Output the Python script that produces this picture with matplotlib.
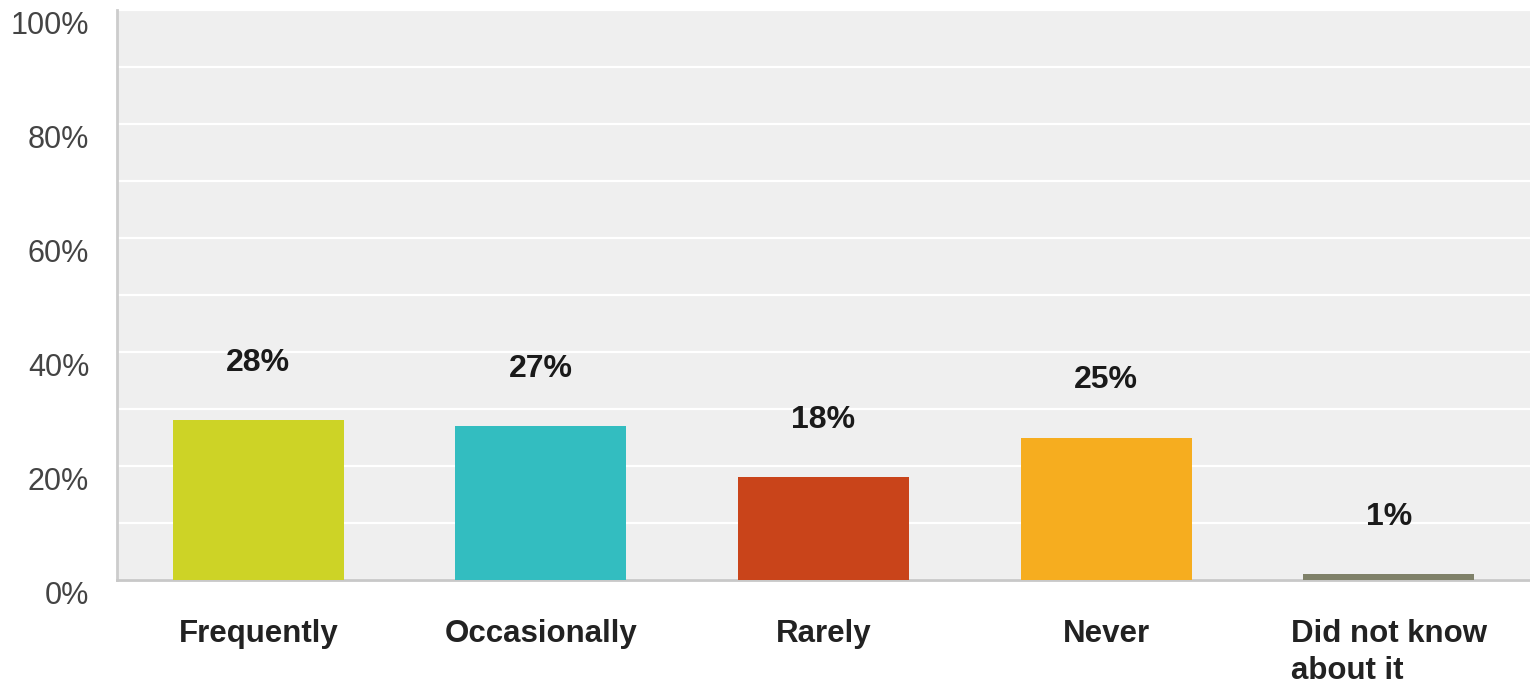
import matplotlib.pyplot as plt
import matplotlib.transforms as mtransforms

categories = ['Frequently', 'Occasionally', 'Rarely', 'Never', 'Did not know\nabout it']
values = [28, 27, 18, 25, 1]
colors = ['#cdd326', '#33bdc0', '#c9441a', '#f6ad1f', '#7f8169']
y_ticks = [0, 20, 40, 60, 80, 100]
y_labels = ['0%', '20%', '40%', '60%', '80%', '100%']

plt.rcParams['font.family'] = ['Liberation Sans', 'DejaVu Sans']

fig = plt.figure(figsize=(15.3, 6.83), dpi=100)
ax = fig.add_axes([117 / 1530, 103 / 683, 1 - 117 / 1530, 570 / 683])
ax.set_facecolor('#efefef')

x = range(len(categories))
ax.bar(x, values, width=0.605, color=colors, zorder=3)

for xi, v in zip(x, values):
    ax.text(xi, v + 10, f'{v}%', ha='center', va='center',
            fontsize=23, fontweight='bold', color='#1a1a1a', zorder=4)

ax.set_xlim(-0.5, len(categories) - 0.5)
ax.set_ylim(0, 100)

# white gridlines every 10%
ax.set_yticks(range(10, 100, 10), minor=True)
ax.grid(axis='y', which='both', color='white', linewidth=1.6, zorder=1)
ax.set_axisbelow(True)

ax.set_yticks(y_ticks)
ax.set_yticklabels(y_labels, fontsize=22, color='#444444')
ax.tick_params(axis='y', which='both', length=0, pad=20)
offset = mtransforms.ScaledTranslation(0, -0.12, fig.dpi_scale_trans)
for lbl in ax.get_yticklabels():
    lbl.set_transform(lbl.get_transform() + offset)

ax.set_xticks(list(x))
ax.set_xticklabels(categories, fontsize=22.5, fontweight='bold', color='#222222',
                   linespacing=1.3)
ax.get_xticklabels()[-1].set_multialignment('left')
ax.tick_params(axis='x', length=0, pad=28)

for side in ['top', 'right']:
    ax.spines[side].set_visible(False)
ax.spines['left'].set_color('#cccccc')
ax.spines['left'].set_linewidth(2)
ax.spines['bottom'].set_color('#c8c8c8')
ax.spines['bottom'].set_linewidth(2)

fig.savefig('out.png', dpi=100)
